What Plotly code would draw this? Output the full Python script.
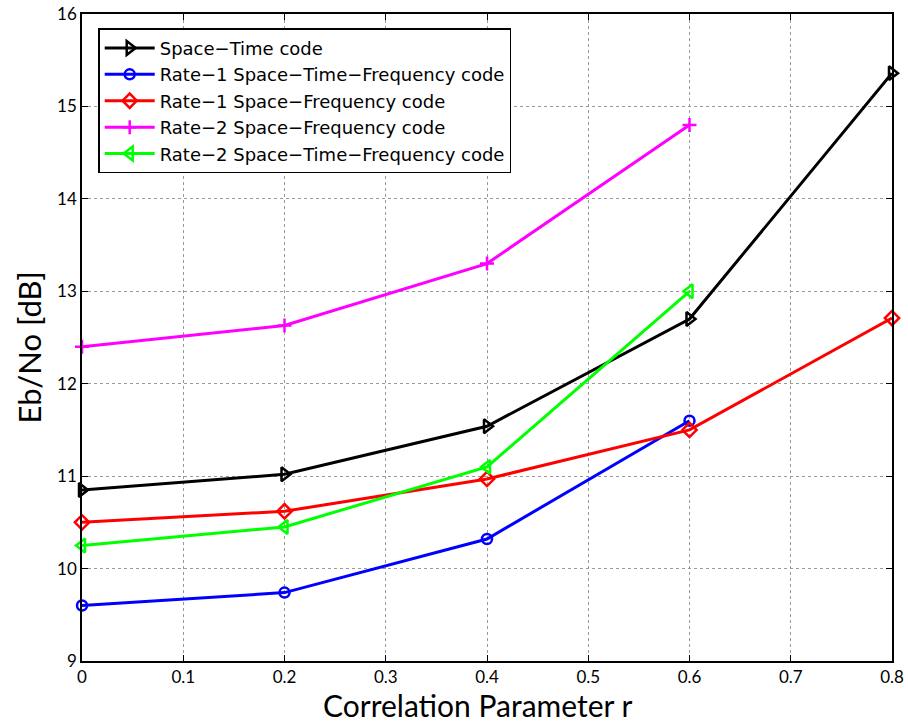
import plotly.graph_objects as go

r = [0, 0.2, 0.4, 0.6, 0.8]
r4 = [0, 0.2, 0.4, 0.6]

space_time = [10.85, 11.02, 11.54, 12.70, 15.36]
rate1_stf = [9.60, 9.74, 10.32, 11.60]
rate1_sf = [10.50, 10.62, 10.97, 11.50, 12.71]
rate2_sf = [12.40, 12.63, 13.30, 14.80]
rate2_stf = [10.25, 10.45, 11.10, 13.00]

x_ticks = [0, 0.1, 0.2, 0.3, 0.4, 0.5, 0.6, 0.7, 0.8]
y_ticks = [9, 10, 11, 12, 13, 14, 15, 16]

series = [
    ("Space\u2212Time code", r, space_time, "black", "triangle-right-open", 12),
    ("Rate\u22121 Space\u2212Time\u2212Frequency code", r4, rate1_stf, "blue", "circle-open", 10),
    ("Rate\u22121 Space\u2212Frequency code", r, rate1_sf, "red", "diamond-open", 11),
    ("Rate\u22122 Space\u2212Frequency code", r4, rate2_sf, "magenta", "cross-thin-open", 10),
    ("Rate\u22122 Space\u2212Time\u2212Frequency code", r4, rate2_stf, "#00ff00", "triangle-left-open", 12),
]

fig = go.Figure()
for name, xs, ys, col, sym, sz in series:
    fig.add_trace(go.Scatter(
        x=xs, y=ys, name=name, mode="lines+markers",
        line=dict(color=col, width=3),
        marker=dict(symbol=sym, size=sz, color=col, line=dict(color=col, width=2.5)),
        cliponaxis=False,
    ))

axis_common = dict(
    showline=True, linecolor="black", linewidth=1.5, mirror="ticks",
    ticks="inside", ticklen=6, tickcolor="black",
    showgrid=True, gridcolor="#9a9a9a", griddash="dot", gridwidth=1,
    zeroline=False, automargin=False,
    tickfont=dict(family="Lato, Open Sans, sans-serif", size=17, color="black"),
)

title_font = dict(family="Lato, Open Sans, sans-serif", size=30, color="black")

fig.update_layout(
    width=908, height=725,
    margin=dict(l=82, r=16, t=14, b=64, autoexpand=False),
    paper_bgcolor="white", plot_bgcolor="white",
    xaxis=dict(range=[0, 0.8], tickvals=x_ticks, ticktext=[str(v) for v in x_ticks],
               **axis_common),
    yaxis=dict(range=[9, 16], tickvals=y_ticks, ticktext=[str(v) for v in y_ticks],
               **axis_common),
    legend=dict(x=0.02, y=0.978, xanchor="left", yanchor="top",
                bgcolor="white", bordercolor="black", borderwidth=1.5,
                font=dict(family="DejaVu Sans, Open Sans, sans-serif", size=18, color="black"),
                itemwidth=50, tracegroupgap=0),
    showlegend=True,
    annotations=[
        dict(text="Correlation Parameter r", xref="paper", yref="paper",
             x=0.4877, y=-0.068, xanchor="center", yanchor="middle",
             showarrow=False, font=title_font),
        dict(text="Eb/No [dB]", xref="paper", yref="paper",
             x=-0.065, y=0.485, xanchor="center", yanchor="middle", textangle=-90,
             showarrow=False, font=dict(family="Lato, Open Sans, sans-serif", size=31, color="black")),
    ],
)

fig.write_html("out.html")
